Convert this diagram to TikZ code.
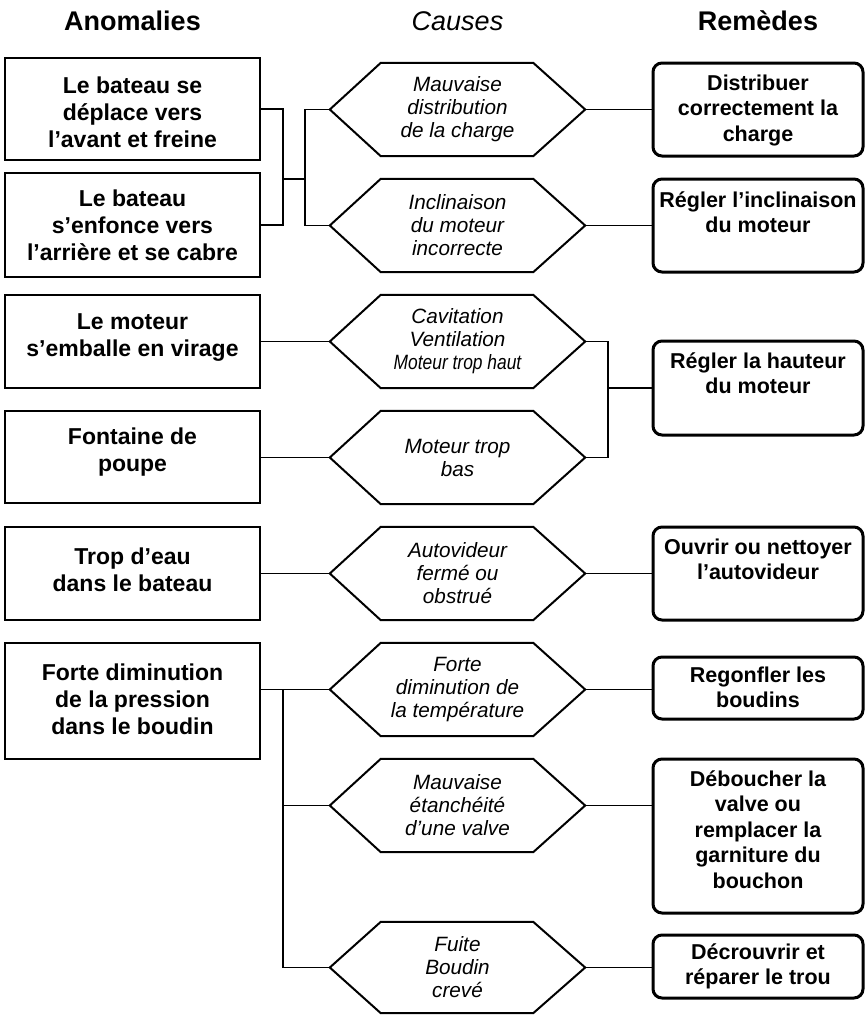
\documentclass[tikz,border=0pt]{standalone}
\usepackage{fontspec}
\setmainfont{Liberation Sans}
\usepackage{graphicx}
\begin{document}
\begin{tikzpicture}[x=1pt,y=-1pt,
  lbox/.style={draw, line width=2pt, minimum width=255pt, inner sep=0pt},
  ltext/.style={align=center, font=\fontsize{23}{27}\selectfont\bfseries, inner sep=0pt},
  hexn/.style={minimum width=255pt, minimum height=93pt, inner sep=0pt, align=center, font=\fontsize{20.7}{23}\selectfont\itshape},
  rbox/.style={draw, line width=3pt, rounded corners=9pt, minimum width=210pt, inner sep=0pt},
  rtext/.style={align=center, anchor=north, font=\fontsize{21.5}{25.5}\selectfont\bfseries, inner sep=0pt},
  hexline/.style={line width=2pt},
  conn/.style={line width=1.6pt},
  head/.style={font=\fontsize{27}{32}\selectfont, anchor=base, inner sep=0pt}
]
\useasboundingbox (0,0) rectangle (865,1015);

% headers
\node[head] (hA) at (132.5,30) {\bfseries Anomalies};
\node[head] (hC) at (457.5,30) {\itshape Causes};
\node[head] (hR) at (758,30) {\bfseries Remèdes};

% anomalies
\node[lbox, minimum height=102pt] (L1) at (132.5,109) {};
\node[lbox, minimum height=104pt] (L2) at (132.5,225) {};
\node[lbox, minimum height=93pt] (L3) at (132.5,341.5) {};
\node[lbox, minimum height=92pt] (L4) at (132.5,457) {};
\node[lbox, minimum height=93pt] (L5) at (132.5,573.5) {};
\node[lbox, minimum height=116pt] (L6) at (132.5,701) {};

\node[ltext] (tL1) at ([yshift=-3pt]L1.center) {Le bateau se\\déplace vers\\l’avant et freine};
\node[ltext] (tL2) at (L2.center) {Le bateau\\s’enfonce vers\\l’arrière et se cabre};
\node[ltext] (tL3) at ([yshift=4pt]L3.center) {Le moteur\\s’emballe en virage};
\node[ltext] (tL4) at ([yshift=5pt]L4.center) {Fontaine de\\poupe};
\node[ltext] (tL5) at ([yshift=4pt]L5.center) {Trop d’eau\\dans le bateau};
\node[ltext] (tL6) at ([yshift=2pt]L6.center) {Forte diminution\\de la pression\\dans le boudin};

% causes
\node[hexn] (H1) at (457.5,109.5) {Mauvaise\\distribution\\de la charge};
\node[hexn] (H2) at (457.5,225.5) {Inclinaison\\du moteur\\incorrecte};
\node[hexn] (H3) at (457.5,341.5) {Cavitation\\Ventilation\\\scalebox{0.84}[1]{Moteur trop haut}};
\node[hexn] (H4) at (457.5,457.5) {Moteur trop\\bas};
\node[hexn] (H5) at (457.5,573.5) {Autovideur\\fermé ou\\obstrué};
\node[hexn] (H6) at (457.5,689.5) {Forte\\diminution de\\la température};
\node[hexn] (H7) at (457.5,805.5) {Mauvaise\\étanchéité\\d’une valve};
\node[hexn, minimum height=91pt] (H8) at (457.5,967.5) {Fuite\\Boudin\\crevé};

\foreach \h in {H1,H2,H3,H4,H5,H6,H7,H8}
  \draw[hexline] (\h.west) -- ([xshift=51pt]\h.north west) -- ([xshift=-52pt]\h.north east)
    -- (\h.east) -- ([xshift=-52pt]\h.south east) -- ([xshift=51pt]\h.south west) -- cycle;

% remedies
\node[rbox, minimum height=93pt] (R1) at (758,109.5) {};
\node[rbox, minimum height=93pt] (R2) at (758,225.5) {};
\node[rbox, minimum height=94pt] (R3) at (758,388) {};
\node[rbox, minimum height=93pt] (R4) at (758,573.5) {};
\node[rbox, minimum height=62pt] (R5) at (758,688) {};
\node[rbox, minimum height=154pt] (R6) at (758,836) {};
\node[rbox, minimum height=63pt] (R7) at (758,966.5) {};

\node[rtext] (tR1) at ([yshift=-13pt]R1.north) {Distribuer\\correctement la\\charge};
\node[rtext] (tR2) at ([yshift=-14pt]R2.north) {Régler l’inclinaison\\du moteur};
\node[rtext] (tR3) at ([yshift=-13pt]R3.north) {Régler la hauteur\\du moteur};
\node[rtext] (tR4) at ([yshift=-13pt]R4.north) {Ouvrir ou nettoyer\\l’autovideur};
\node[rtext] (tR5) at ([yshift=-11pt]R5.north) {Regonfler les\\boudins};
\node[rtext] (tR6) at ([yshift=-13pt]R6.north) {Déboucher la\\valve ou\\remplacer la\\garniture du\\bouchon};
\node[rtext] (tR7) at ([yshift=-10pt]R7.north) {Décrouvrir et\\réparer le trou};

% connectors
\coordinate (j1) at (283,179);
\coordinate (j2) at (305,179);
\draw[conn] (L1.east) -| (j1) |- (L2.east);
\draw[conn] (j1) -- (j2);
\draw[conn] (H1.west) -| (j2) |- (H2.west);
\draw[conn] (H1.east) -- (H1.east -| R1.west);
\draw[conn] (H2.east) -- (H2.east -| R2.west);

\draw[conn] (H3.west -| L3.east) -- (H3.west);
\draw[conn] (H4.west -| L4.east) -- (H4.west);
\coordinate (j3) at (608,388);
\draw[conn] (H3.east) -| (j3) |- (H4.east);
\draw[conn] (j3) -- (j3 -| R3.west);

\draw[conn] (H5.west -| L5.east) -- (H5.west);
\draw[conn] (H5.east) -- (H5.east -| R4.west);

\coordinate (j6) at (283,689.5);
\draw[conn] (H6.west -| L6.east) -- (H6.west);
\draw[conn] (j6) |- (H8.west);
\draw[conn] (j6 |- H7.west) -- (H7.west);
\draw[conn] (H6.east) -- (H6.east -| R5.west);
\draw[conn] (H7.east) -- (H7.east -| R6.west);
\draw[conn] (H8.east) -- (H8.east -| R7.west);
\end{tikzpicture}
\end{document}
